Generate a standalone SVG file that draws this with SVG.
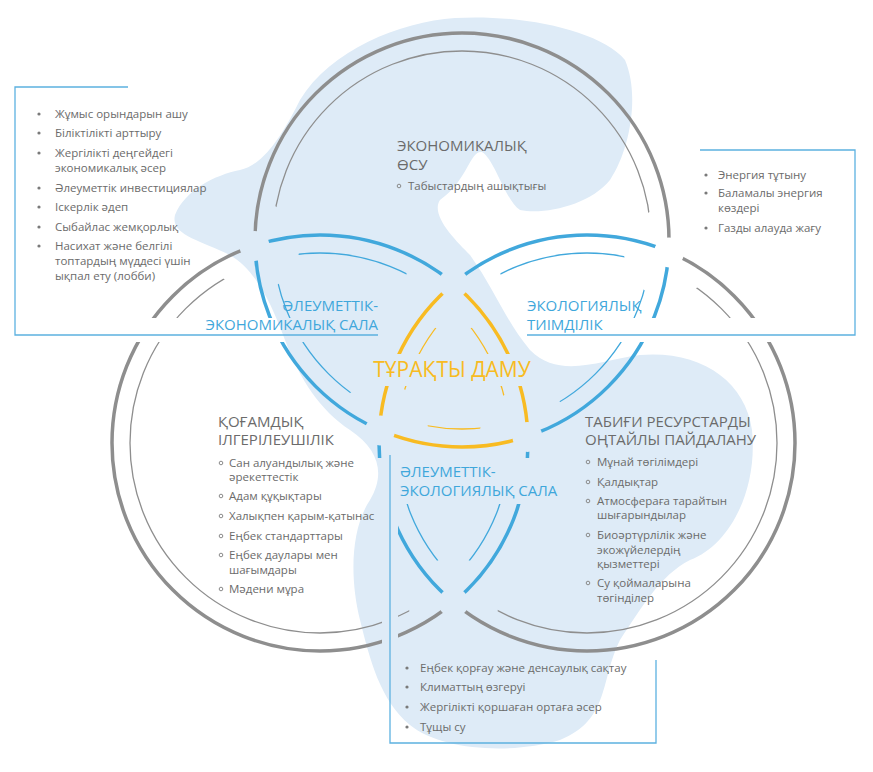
<svg xmlns="http://www.w3.org/2000/svg" width="873" height="772" viewBox="0 0 873 772">
<style>
text{font-family:"Open Sans","DejaVu Sans",sans-serif;}
.it{font-size:11.5px;fill:#6b6b6b}
.hd{font-size:15px;fill:#6b6b6b}
.bl{font-size:15px;fill:#3fa7db}
.box{fill:none;stroke:#5cb1e0;stroke-width:1.3}
.k{fill:none;stroke-width:3.5}
.n{fill:none;stroke-width:1.3}
.g{stroke:#8e8e8e}.b{stroke:#41a8dc}.y{stroke:#f8bb22}
.dot{fill:#7a7a7a}
.ring{fill:none;stroke:#8a8a8a;stroke-width:1}
</style>
<defs>
<clipPath id="cT"><circle cx="462" cy="240" r="207"/></clipPath>
<clipPath id="cL"><circle cx="320" cy="443" r="208"/></clipPath>
<clipPath id="cR"><circle cx="587" cy="443" r="208"/></clipPath>
<mask id="mTg" maskUnits="userSpaceOnUse" x="0" y="0" width="873" height="772"><rect width="873" height="772" fill="#fff"/><circle cx="320" cy="443" r="208"/><circle cx="587" cy="443" r="208"/></mask>
<mask id="mTb" maskUnits="userSpaceOnUse" x="0" y="0" width="873" height="772"><circle cx="320" cy="443" r="208" fill="#fff"/><circle cx="587" cy="443" r="208" fill="#fff"/><circle cx="320" cy="443" r="208" fill="#000" clip-path="url(#cR)"/></mask>
<mask id="mTy" maskUnits="userSpaceOnUse" x="0" y="0" width="873" height="772"><circle cx="320" cy="443" r="208" fill="#fff" clip-path="url(#cR)"/></mask>
<mask id="mLg" maskUnits="userSpaceOnUse" x="0" y="0" width="873" height="772"><rect width="873" height="772" fill="#fff"/><circle cx="462" cy="240" r="207"/><circle cx="587" cy="443" r="208"/></mask>
<mask id="mLb" maskUnits="userSpaceOnUse" x="0" y="0" width="873" height="772"><circle cx="462" cy="240" r="207" fill="#fff"/><circle cx="587" cy="443" r="208" fill="#fff"/><circle cx="462" cy="240" r="207" fill="#000" clip-path="url(#cR)"/></mask>
<mask id="mLy" maskUnits="userSpaceOnUse" x="0" y="0" width="873" height="772"><circle cx="462" cy="240" r="207" fill="#fff" clip-path="url(#cR)"/></mask>
<mask id="mRg" maskUnits="userSpaceOnUse" x="0" y="0" width="873" height="772"><rect width="873" height="772" fill="#fff"/><circle cx="462" cy="240" r="207"/><circle cx="320" cy="443" r="208"/></mask>
<mask id="mRb" maskUnits="userSpaceOnUse" x="0" y="0" width="873" height="772"><circle cx="462" cy="240" r="207" fill="#fff"/><circle cx="320" cy="443" r="208" fill="#fff"/><circle cx="462" cy="240" r="207" fill="#000" clip-path="url(#cL)"/></mask>
<mask id="mRy" maskUnits="userSpaceOnUse" x="0" y="0" width="873" height="772"><circle cx="462" cy="240" r="207" fill="#fff" clip-path="url(#cL)"/></mask>
<mask id="gK" maskUnits="userSpaceOnUse" x="0" y="0" width="873" height="772"><rect width="873" height="772" fill="#fff"/>
<g fill="#000"><circle cx="453.5" cy="283.5" r="15"/><circle cx="453.5" cy="602.5" r="15"/><circle cx="254.5" cy="246" r="15"/><circle cx="527.5" cy="437" r="15"/><circle cx="669" cy="252.5" r="15"/><circle cx="380" cy="430.5" r="15"/>
<rect x="15" y="318" width="363" height="24"/><rect x="527" y="318" width="328" height="24"/><rect x="382" y="455" width="16" height="290"/><rect x="372" y="458" width="165" height="46"/><rect x="368" y="354" width="170" height="32"/></g></mask>
<mask id="gN" maskUnits="userSpaceOnUse" x="0" y="0" width="873" height="772"><rect width="873" height="772" fill="#fff"/>
<g fill="#000"><circle cx="453.5" cy="283.5" r="48"/><circle cx="453.5" cy="602.5" r="45"/><circle cx="254.5" cy="246" r="45"/><circle cx="527.5" cy="437" r="48"/><circle cx="669" cy="252.5" r="45"/><circle cx="380" cy="430.5" r="48"/>
<rect x="15" y="318" width="363" height="24"/><rect x="527" y="318" width="328" height="24"/><rect x="382" y="455" width="16" height="290"/><rect x="372" y="458" width="165" height="46"/><rect x="368" y="354" width="170" height="32"/></g></mask>
</defs>
<rect width="873" height="772" fill="#fff"/>
<path id="blob" fill="#deebf7" d="M455,18 C520,14 600,30 625,60 C640,95 630,150 610,180 C590,205 545,215 520,210 C505,200 495,160 482,152 C470,150 468,180 440,200 C430,215 455,240 470,255 C495,290 505,320 530,350 C560,380 600,360 640,355 C700,350 745,380 752,430 C758,490 730,545 690,560 C660,575 640,610 620,640 C600,680 610,720 560,740 C510,755 440,750 410,725 C380,700 370,660 360,620 C350,580 350,530 370,500 C385,475 380,450 350,430 C320,410 300,380 285,340 C270,300 255,270 230,255 C200,240 170,235 175,215 C185,190 215,175 240,170 C265,165 285,130 300,100 C330,50 400,22 455,18 Z"/>
<g id="connectors">
<g mask="url(#gK)">
<circle class="k g" cx="462" cy="240" r="207" mask="url(#mTg)"/><circle class="k b" cx="462" cy="240" r="207" mask="url(#mTb)"/><circle class="k y" cx="462" cy="240" r="207" mask="url(#mTy)"/>
<circle class="k g" cx="320" cy="443" r="208" mask="url(#mLg)"/><circle class="k b" cx="320" cy="443" r="208" mask="url(#mLb)"/><circle class="k y" cx="320" cy="443" r="208" mask="url(#mLy)"/>
<circle class="k g" cx="587" cy="443" r="208" mask="url(#mRg)"/><circle class="k b" cx="587" cy="443" r="208" mask="url(#mRb)"/><circle class="k y" cx="587" cy="443" r="208" mask="url(#mRy)"/>
</g>
<g mask="url(#gN)">
<circle class="n g" cx="462" cy="240" r="189" mask="url(#mTg)"/><circle class="n b" cx="462" cy="240" r="189" mask="url(#mTb)"/><circle class="n y" cx="462" cy="240" r="189" mask="url(#mTy)"/>
<circle class="n g" cx="320" cy="443" r="190" mask="url(#mLg)"/><circle class="n b" cx="320" cy="443" r="190" mask="url(#mLb)"/><circle class="n y" cx="320" cy="443" r="190" mask="url(#mLy)"/>
<circle class="n g" cx="587" cy="443" r="190" mask="url(#mRg)"/><circle class="n b" cx="587" cy="443" r="190" mask="url(#mRb)"/><circle class="n y" cx="587" cy="443" r="190" mask="url(#mRy)"/>
</g>
<path class="box" d="M128,87 H15 V335 H378"/>
<path class="box" d="M700,150 H855 V335 H527"/>
<path class="box" d="M390,455 V743 H656 V660"/>
</g>
<g id="econ-social">
<g class="dot"><circle cx="39" cy="114" r="1.6"/><circle cx="39" cy="133" r="1.6"/><circle cx="39" cy="153" r="1.6"/><circle cx="39" cy="188" r="1.6"/><circle cx="39" cy="207" r="1.6"/><circle cx="39" cy="227" r="1.6"/><circle cx="39" cy="246" r="1.6"/></g>
<text class="it" x="55" y="118">Жұмыс орындарын ашу</text>
<text class="it" x="55" y="137">Біліктілікті арттыру</text>
<text class="it" x="55" y="157">Жергілікті деңгейдегі</text>
<text class="it" x="55" y="172">экономикалық әсер</text>
<text class="it" x="55" y="192">Әлеуметтік инвестициялар</text>
<text class="it" x="55" y="211">Іскерлік әдеп</text>
<text class="it" x="55" y="231">Сыбайлас жемқорлық</text>
<text class="it" x="55" y="250">Насихат және белгілі</text>
<text class="it" x="55" y="265">топтардың мүддесі үшін</text>
<text class="it" x="55" y="280">ықпал ету (лобби)</text>
<text class="bl" x="378" y="311" text-anchor="end">ӘЛЕУМЕТТІК-</text>
<text class="bl" x="378" y="330" text-anchor="end">ЭКОНОМИКАЛЫҚ САЛА</text>
</g>
<g id="economic">
<text class="hd" x="397" y="151">ЭКОНОМИКАЛЫҚ</text>
<text class="hd" x="397" y="170">ӨСУ</text>
<circle class="ring" cx="399" cy="186" r="1.8"/>
<text class="it" x="408" y="190">Табыстардың ашықтығы</text>
</g>
<g id="eco-efficiency">
<g class="dot"><circle cx="706" cy="175" r="1.6"/><circle cx="706" cy="193" r="1.6"/><circle cx="706" cy="228" r="1.6"/></g>
<text class="it" x="718" y="179">Энергия тұтыну</text>
<text class="it" x="718" y="197">Баламалы энергия</text>
<text class="it" x="718" y="212">көздері</text>
<text class="it" x="718" y="232">Газды алауда жағу</text>
<text class="bl" x="527" y="311">ЭКОЛОГИЯЛЫҚ</text>
<text class="bl" x="527" y="330">ТИІМДІЛІК</text>
</g>
<g id="center"><text x="452" y="377" text-anchor="middle" style="font-size:21px;fill:#f8bb22">ТҰРАҚТЫ ДАМУ</text></g>
<g id="social">
<text class="hd" x="218" y="427">ҚОҒАМДЫҚ</text>
<text class="hd" x="218" y="445">ІЛГЕРІЛЕУШІЛІК</text>
<g class="ring"><circle cx="221" cy="463" r="1.8"/><circle cx="221" cy="496" r="1.8"/><circle cx="221" cy="516" r="1.8"/><circle cx="221" cy="536" r="1.8"/><circle cx="221" cy="555" r="1.8"/><circle cx="221" cy="589" r="1.8"/></g>
<text class="it" x="229" y="467">Сан алуандылық және</text>
<text class="it" x="229" y="481">әрекеттестік</text>
<text class="it" x="229" y="500">Адам құқықтары</text>
<text class="it" x="229" y="520">Халықпен қарым-қатынас</text>
<text class="it" x="229" y="540">Еңбек стандарттары</text>
<text class="it" x="229" y="559">Еңбек даулары мен</text>
<text class="it" x="229" y="574">шағымдары</text>
<text class="it" x="229" y="593">Мәдени мұра</text>
</g>
<g id="natural">
<text class="hd" x="585" y="427">ТАБИҒИ РЕСУРСТАРДЫ</text>
<text class="hd" x="585" y="445">ОҢТАЙЛЫ ПАЙДАЛАНУ</text>
<g class="ring"><circle cx="588" cy="462" r="1.8"/><circle cx="588" cy="482" r="1.8"/><circle cx="588" cy="501" r="1.8"/><circle cx="588" cy="535" r="1.8"/><circle cx="588" cy="583" r="1.8"/></g>
<text class="it" x="597" y="466">Мұнай төгілімдері</text>
<text class="it" x="597" y="486">Қалдықтар</text>
<text class="it" x="597" y="505">Атмосфераға тарайтын</text>
<text class="it" x="597" y="519">шығарындылар</text>
<text class="it" x="597" y="539">Биоәртүрлілік және</text>
<text class="it" x="597" y="554">экожүйелердің</text>
<text class="it" x="597" y="568">қызметтері</text>
<text class="it" x="597" y="587">Су қоймаларына</text>
<text class="it" x="597" y="602">төгінділер</text>
</g>
<g id="social-eco">
<text class="bl" x="400" y="477">ӘЛЕУМЕТТІК-</text>
<text class="bl" x="400" y="496">ЭКОЛОГИЯЛЫҚ САЛА</text>
<g class="dot"><circle cx="407" cy="668" r="1.6"/><circle cx="407" cy="687" r="1.6"/><circle cx="407" cy="707" r="1.6"/><circle cx="407" cy="727" r="1.6"/></g>
<text class="it" x="420" y="672">Еңбек қорғау және денсаулық сақтау</text>
<text class="it" x="420" y="691">Климаттың өзгеруі</text>
<text class="it" x="420" y="711">Жергілікті қоршаған ортаға әсер</text>
<text class="it" x="420" y="731">Тұщы су</text>
</g>
</svg>
